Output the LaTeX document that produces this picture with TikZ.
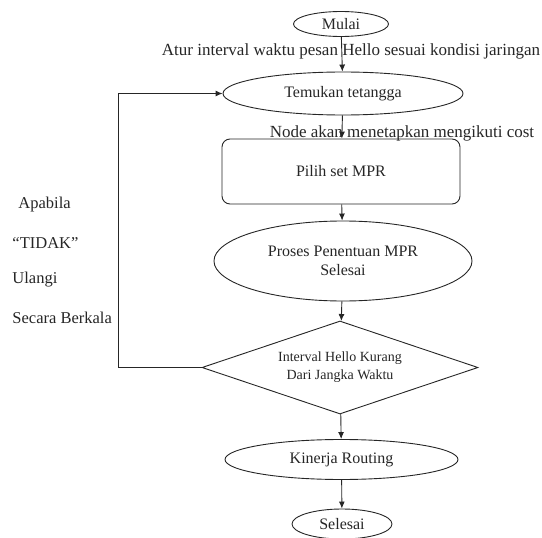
\documentclass[tikz,border=0pt]{standalone}
\usepackage{fontspec}
\setmainfont{Liberation Serif}
\usepackage{tikz}
\usetikzlibrary{shapes.geometric}
\usetikzlibrary{arrows.meta}

\tikzset{
	oval/.style={draw, ellipse, inner sep=0pt, font=\fontsize{16}{19}\selectfont},
	kotak/.style={draw, rectangle, rounded corners=8pt, inner sep=0pt, font=\fontsize{16}{19}\selectfont},
	cek/.style={draw, diamond, aspect=2.97, inner sep=0pt, align=center, font=\fontsize{14}{18}\selectfont},
	ket/.style={font=\fontsize{17}{20}\selectfont, inner sep=0pt},
	sisi/.style={font=\fontsize{16.5}{20}\selectfont, inner sep=0pt, anchor=west},
}

\begin{document}
\begin{tikzpicture}[x=1pt, y=-1pt, >={Latex[length=7pt,width=6pt]}, line width=0.9pt, black!85]
	\useasboundingbox (0,0) rectangle (542,538);
	% langkah utama
	\node[oval, minimum width=95pt, minimum height=25pt] (mulai) at (341,24) {Mulai};
	\node[oval, minimum width=240pt, minimum height=43pt] (temu) at (343,93.5) {Temukan tetangga};
	\node[kotak, minimum width=238pt, minimum height=65pt] (pilih) at (341,171.5) {Pilih set MPR};
	\node[oval, align=center, minimum width=258pt, minimum height=80pt] (proses) at (343,261) {Proses Penentuan MPR\\Selesai};
	\node[cek, minimum width=276pt, minimum height=93pt] (interval) at (340,367.5) {Interval Hello Kurang\\Dari Jangka Waktu};
	\node[oval, minimum width=233pt, minimum height=40pt] (kinerja) at (341.5,459.5) {Kinerja Routing};
	\node[oval, minimum width=100pt, minimum height=30pt] (selesai) at (342,524) {Selesai};
	% keterangan
	\node[ket, anchor=base] (atur) at (351,56) {Atur interval waktu pesan Hello sesuai kondisi jaringan};
	\node[ket, anchor=base] (cost) at (402,137) {Node akan menetapkan mengikuti cost};
	\node[sisi] (apabila) at (18,205) {Apabila};
	\node[sisi] (tidak) at (12,243) {“TIDAK”};
	\node[sisi] (ulangi) at (12,280) {Ulangi};
	\node[sisi] (berkala) at (12,318) {Secara Berkala};
	% panah
	\coordinate (balik) at (118,0);
	\draw[->] (mulai) -- (temu);
	\draw[->] (temu) -- (pilih);
	\draw[->] (pilih) -- (proses);
	\draw[->] (proses) -- (interval);
	\draw[->] (interval) -- (kinerja);
	\draw[->] (kinerja) -- (selesai);
	\draw[->] (interval.west) -- (interval.west -| balik) |- (temu.west);
\end{tikzpicture}
\end{document}
